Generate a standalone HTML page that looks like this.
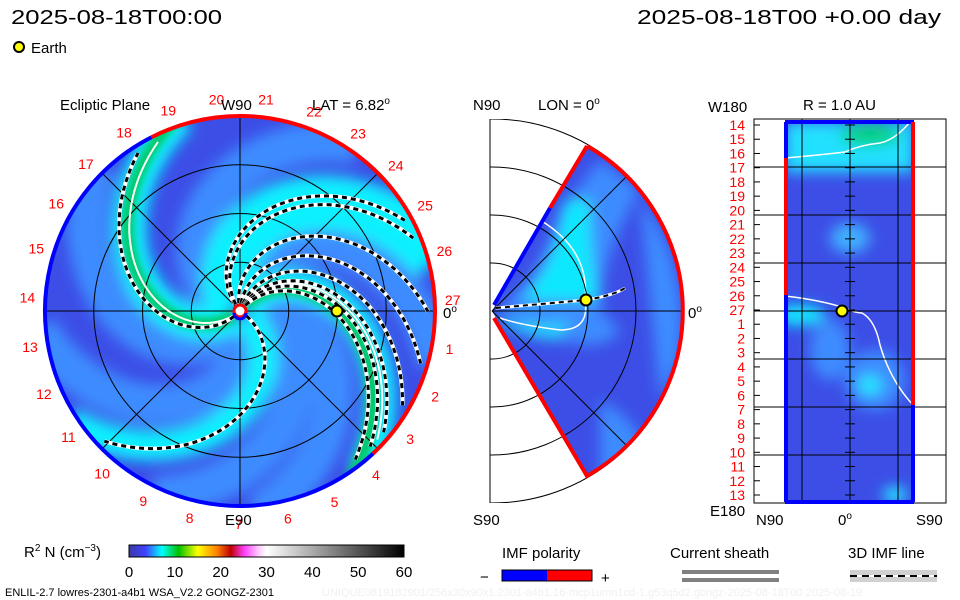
<!DOCTYPE html>
<html><head><meta charset="utf-8"><style>
html,body{margin:0;padding:0;background:#fff}
svg{display:block;font-family:"Liberation Sans",sans-serif}
</style></head><body>
<svg id="s" width="960" height="600" viewBox="0 0 960 600" xmlns="http://www.w3.org/2000/svg">
<defs>
<clipPath id="disk"><circle cx="240" cy="311" r="195"/></clipPath>
<clipPath id="wedge"><path d="M492,311 L587,146 A190,190 0 0 1 587,476 Z"/></clipPath>
<clipPath id="rbox"><rect x="785" y="122" width="129" height="380"/></clipPath>
<clipPath id="frameM"><rect x="490" y="119" width="200" height="384"/></clipPath>
<filter id="bl" x="-20%" y="-20%" width="140%" height="140%"><feGaussianBlur stdDeviation="7"/></filter>
<filter id="bl2" x="-20%" y="-20%" width="140%" height="140%"><feGaussianBlur stdDeviation="4"/></filter>
<linearGradient id="cbar" x1="0" x2="1" y1="0" y2="0">
<stop offset="0" stop-color="#3a3aa8"/><stop offset="0.06" stop-color="#4040ff"/>
<stop offset="0.12" stop-color="#00ffff"/><stop offset="0.18" stop-color="#00c000"/>
<stop offset="0.25" stop-color="#ffff00"/><stop offset="0.32" stop-color="#ff8000"/>
<stop offset="0.37" stop-color="#c00000"/><stop offset="0.42" stop-color="#ff40ff"/>
<stop offset="0.47" stop-color="#ffc8ff"/><stop offset="0.5" stop-color="#ffffff"/>
<stop offset="1" stop-color="#000000"/></linearGradient>
</defs>

<text x="11" y="24" font-size="20" textLength="211" lengthAdjust="spacingAndGlyphs">2025-08-18T00:00</text>
<text x="637" y="24" font-size="20" textLength="304" lengthAdjust="spacingAndGlyphs">2025-08-18T00 +0.00 day</text>
<circle cx="19" cy="47" r="5" fill="#ffff00" stroke="#000" stroke-width="2"/>
<text x="31" y="53" font-size="15">Earth</text>

<g id="left">
<g clip-path="url(#disk)">
<circle cx="240" cy="311" r="195" fill="#3c4ee6"/>
<g id="bands" filter="url(#bl)"></g>
<g id="bands2" filter="url(#bl2)"></g>
</g>
<g id="grid" fill="none" stroke="#000" stroke-width="1"></g>
<g id="arms"></g>
<g id="outline"></g>
<g id="lonlabels" font-size="14" fill="#ff0000"></g>
<text x="60" y="110" font-size="15">Ecliptic Plane</text>
<text x="221" y="110" font-size="15">W90</text>
<text x="312" y="110" font-size="15">LAT = 6.82<tspan font-size="10" dy="-6">o</tspan></text>
<text x="225" y="525" font-size="15">E90</text>
<text x="443" y="318" font-size="15">0<tspan font-size="10" dy="-6">o</tspan></text>
<circle cx="240" cy="311" r="6" fill="#fff" stroke="#ff0000" stroke-width="3"/>
<path d="M234,313 A6,6 0 0 0 246,313" fill="none" stroke="#0000ff" stroke-width="3"/>
<circle id="earthL" cx="337" cy="311" r="5.5" fill="#ffff00" stroke="#000" stroke-width="2"/>
</g>

<g id="mid">
<g clip-path="url(#wedge)">
<rect x="490" y="119" width="200" height="384" fill="#3c4ee6"/>
<g filter="url(#bl)">
<path d="M500,305 Q540,280 560,210 L600,160 L640,190 Q600,260 600,310 L620,330 Q600,360 540,330 Z" fill="#3d8cff"/>
<path d="M520,300 Q555,270 565,200 L590,200 Q590,260 600,300 Z" fill="#10e8ff"/>
<path d="M500,315 Q540,330 570,320 L560,340 Q530,340 500,322 Z" fill="#20d8ff"/>
<path d="M600,400 Q640,420 650,460 L600,480 Z" fill="#3d8cff"/>
<path d="M640,200 Q690,260 680,360 L660,400 Q650,300 640,200Z" fill="#3d8cff"/>
</g>
<path d="M540,220 Q590,250 585,300 Q590,330 560,330 Q520,325 500,318" fill="none" stroke="#fff" stroke-width="1.5"/>
</g>
<line x1="490" y1="119" x2="490" y2="503" stroke="#000"/>
<g clip-path="url(#frameM)" fill="none" stroke="#000">
<circle cx="492" cy="311" r="48"/><circle cx="492" cy="311" r="96"/><circle cx="492" cy="311" r="144"/><circle cx="492" cy="311" r="192"/>
</g>
<line x1="492" y1="311" x2="682" y2="311" stroke="#000"/>
<line x1="492" y1="311" x2="626" y2="177" stroke="#000"/>
<line x1="492" y1="311" x2="626" y2="445" stroke="#000"/>
<path d="M587,146 A190,190 0 0 1 587,476 L494,318" fill="none" stroke="#ff0000" stroke-width="4"/>
<path d="M587,146 L550,208" fill="none" stroke="#ff0000" stroke-width="4"/>
<path d="M550,208 L494,305" fill="none" stroke="#0000ff" stroke-width="4"/>
<path d="M496,308 L586,300 Q615,295 625,288" fill="none" stroke="#fff" stroke-width="3"/>
<path d="M496,308 L586,300 Q615,295 625,288" fill="none" stroke="#000" stroke-width="2" stroke-dasharray="5,4"/>
<circle cx="586" cy="300" r="5.5" fill="#ffff00" stroke="#000" stroke-width="2"/>
<text x="473" y="110" font-size="15">N90</text>
<text x="538" y="110" font-size="15">LON = 0<tspan font-size="10" dy="-6">o</tspan></text>
<text x="473" y="525" font-size="15">S90</text>
<text x="688" y="318" font-size="15">0<tspan font-size="10" dy="-6">o</tspan></text>
</g>

<g id="right">
<rect x="754" y="119" width="192" height="384" fill="none" stroke="#000"/>
<g clip-path="url(#rbox)">
<rect x="785" y="122" width="129" height="380" fill="#3c4ee6"/>
<g filter="url(#bl)">
<rect x="785" y="122" width="129" height="50" fill="#20e0ff"/>
<ellipse cx="870" cy="135" rx="30" ry="10" fill="#00d070"/>
<ellipse cx="850" cy="238" rx="20" ry="15" fill="#40b0ff"/>
<ellipse cx="800" cy="315" rx="25" ry="10" fill="#10f0ff"/>
<ellipse cx="875" cy="380" rx="30" ry="30" fill="#3d8cff"/>
<ellipse cx="870" cy="385" rx="12" ry="10" fill="#20e8ff"/>
<ellipse cx="830" cy="350" rx="20" ry="30" fill="#3d8cff"/>
<ellipse cx="895" cy="495" rx="12" ry="8" fill="#20f0ff"/>
</g>
<path d="M785,158 Q820,155 845,152 Q860,145 880,143 Q895,140 910,122" fill="none" stroke="#fff" stroke-width="1.5"/>
<path d="M785,296 Q820,300 845,308 Q855,313 862,313 Q875,320 880,345 Q890,380 913,405" fill="none" stroke="#fff" stroke-width="1.5"/>
</g>
<g id="rgrid" stroke="#000"></g>
<line x1="785" y1="122" x2="914" y2="122" stroke="#0000ff" stroke-width="4"/>
<line x1="785" y1="502" x2="914" y2="502" stroke="#0000ff" stroke-width="4"/>
<line x1="786" y1="122" x2="786" y2="158" stroke="#0000ff" stroke-width="4"/>
<line x1="786" y1="158" x2="786" y2="295" stroke="#ff0000" stroke-width="4"/>
<line x1="786" y1="295" x2="786" y2="502" stroke="#0000ff" stroke-width="4"/>
<line x1="913" y1="122" x2="913" y2="405" stroke="#ff0000" stroke-width="4"/>
<line x1="913" y1="405" x2="913" y2="502" stroke="#0000ff" stroke-width="4"/>
<circle cx="842" cy="311" r="5.5" fill="#ffff00" stroke="#000" stroke-width="2"/>
<g id="rlabels" font-size="14" fill="#ff0000"></g>
<text x="708" y="112" font-size="15">W180</text>
<text x="803" y="110" font-size="15">R = 1.0 AU</text>
<text x="710" y="516" font-size="15">E180</text>
<text x="756" y="525" font-size="15">N90</text>
<text x="838" y="525" font-size="15">0<tspan font-size="10" dy="-6">o</tspan></text>
<text x="916" y="525" font-size="15">S90</text>
</g>

<g>
<text x="24" y="557" font-size="15">R<tspan font-size="10" dy="-6">2</tspan><tspan dy="6"> N (cm</tspan><tspan font-size="10" dy="-6">−3</tspan><tspan dy="6">)</tspan></text>
<rect x="129" y="545" width="275" height="12" fill="url(#cbar)" stroke="#000"/>
<g id="cticks" font-size="15" text-anchor="middle"></g>
</g>
<text x="5" y="596" font-size="11">ENLIL-2.7 lowres-2301-a4b1 WSA_V2.2 GONGZ-2301</text>
<text x="322" y="596" font-size="11" fill="#f0f0f0">UNIQUE0819182901/256x30x90x1.2301-a4b1.16-mcp1umn1cd-1.g53q5d2.gongz-2025-08-18T00   2025-08-19</text>

<g>
<text x="502" y="558" font-size="15">IMF polarity</text>
<text x="480" y="582" font-size="15">−</text>
<rect x="502" y="570" width="45" height="11" fill="#0000ff"/>
<rect x="547" y="570" width="45" height="11" fill="#ff0000"/>
<rect x="502" y="570" width="90" height="11" fill="none" stroke="#000"/>
<text x="601" y="583" font-size="15">+</text>
</g>
<g>
<text x="670" y="558" font-size="15">Current sheath</text>
<rect x="682" y="570" width="97" height="4" fill="#808080"/>
<rect x="682" y="578" width="97" height="4" fill="#808080"/>
</g>
<g>
<text x="848" y="558" font-size="15">3D IMF line</text>
<rect x="850" y="570" width="87" height="12" fill="#d0d0d0"/>
<line x1="850" y1="576" x2="937" y2="576" stroke="#fff" stroke-width="2"/>
<line x1="850" y1="576" x2="937" y2="576" stroke="#000" stroke-width="2" stroke-dasharray="7,5"/>
</g>
</svg>
<script>
const NS='http://www.w3.org/2000/svg';
const colorbarTicks=[0,10,20,30,40,50,60];
const lonLabels=[27,1,2,3,4,5,6,7,8,9,10,11,12,13,14,15,16,17,18,19,20,21,22,23,24,25,26];
const rightLabels=[14,15,16,17,18,19,20,21,22,23,24,25,26,27,1,2,3,4,5,6,7,8,9,10,11,12,13];
const dashedArmEnds=[-119,-25,-19,4,20,34,44,50,56,140];
const whiteArmEnds=[-112,47];
const cyanBandEnds=[-112,-20,48,142];
const cyanBandWidths=[34,55,30,30];
const lightBandEnds=[-140,-60,10,80,110,170];
const greenBandEnds=[-113,53];

const CX=240,CY=311,R=195,K=0.55;
function mk(tag,attrs,parent){const e=document.createElementNS(NS,tag);for(const k in attrs)e.setAttribute(k,attrs[k]);parent.appendChild(e);return e;}
function spiral(endDeg,rmax){rmax=rmax||R+10;let d='';for(let r=8;r<=rmax;r+=4){const a=(endDeg-K*(R-r))*Math.PI/180;d+=(d?'L':'M')+(CX+r*Math.cos(a)).toFixed(1)+','+(CY+r*Math.sin(a)).toFixed(1);}return d;}
const bands=document.getElementById('bands'),bands2=document.getElementById('bands2');
lightBandEnds.forEach(e=>{const p=mk('path',{d:spiral(e),fill:'none',stroke:'#3d8cff','stroke-width':40},bands);

});
cyanBandEnds.forEach((e,i)=>{const p=mk('path',{d:spiral(e),fill:'none',stroke:'#10f0ff','stroke-width':cyanBandWidths[i]},bands);

});
greenBandEnds.forEach(e=>{const p=mk('path',{d:spiral(e),fill:'none',stroke:'#00c860','stroke-width':12},bands2);

});
const grid=document.getElementById('grid');
[R/4,R/2,3*R/4].forEach(r=>mk('circle',{cx:CX,cy:CY,r:r},grid));
[0,45,90,135].forEach(a=>{const t=a*Math.PI/180;mk('line',{x1:CX-R*Math.cos(t),y1:CY-R*Math.sin(t),x2:CX+R*Math.cos(t),y2:CY+R*Math.sin(t)},grid);});
const arms=document.getElementById('arms');
whiteArmEnds.forEach(e=>{const p=mk('path',{d:spiral(e,190),fill:'none',stroke:'#fff','stroke-width':2},arms);

});
dashedArmEnds.forEach(e=>{mk('path',{d:spiral(e,190),fill:'none',stroke:'#fff','stroke-width':4},arms);
const p=mk('path',{d:spiral(e,190),fill:'none',stroke:'#000','stroke-width':3,'stroke-dasharray':'5,4'},arms);

});
const outline=document.getElementById('outline');
function arc(a0,a1,col){const t0=a0*Math.PI/180,t1=a1*Math.PI/180;const large=(a1-a0)>180?1:0;
const p=mk('path',{d:`M${CX+R*Math.cos(t0)},${CY+R*Math.sin(t0)} A${R},${R} 0 ${large} 1 ${CX+R*Math.cos(t1)},${CY+R*Math.sin(t1)}`,fill:'none',stroke:col,'stroke-width':4},outline);

}
arc(-117,47,'#ff0000');arc(47,243,'#0000ff');
const ll=document.getElementById('lonlabels');
lonLabels.forEach((n,i)=>{const a=(-3+i*360/27)*Math.PI/180;const r=213;
const t=mk('text',{x:(CX+r*Math.cos(a)).toFixed(1),y:(CY+r*Math.sin(a)+5).toFixed(1),'text-anchor':'middle'},ll);t.textContent=n;

});
const rg=document.getElementById('rgrid');
for(let i=1;i<=7;i++){const y=119+i*48;mk('line',{x1:754,y1:y,x2:946,y2:y},rg);}
[802,850,898].forEach(x=>mk('line',{x1:x,y1:119,x2:x,y2:503},rg));
const rl=document.getElementById('rlabels');
rightLabels.forEach((n,i)=>{const y=125+i*370/26;
const t=mk('text',{x:745,y:(y+5).toFixed(1),'text-anchor':'end'},rl);t.textContent=n;


mk('line',{x1:754,y1:y,x2:760,y2:y,stroke:'#000'},rg);mk('line',{x1:845,y1:y,x2:855,y2:y,stroke:'#000'},rg);});
const ct=document.getElementById('cticks');
colorbarTicks.forEach(v=>{const x=129+v/60*275;
const t=mk('text',{x:x,y:577},ct);t.textContent=v;

});
</script>
</body></html>
